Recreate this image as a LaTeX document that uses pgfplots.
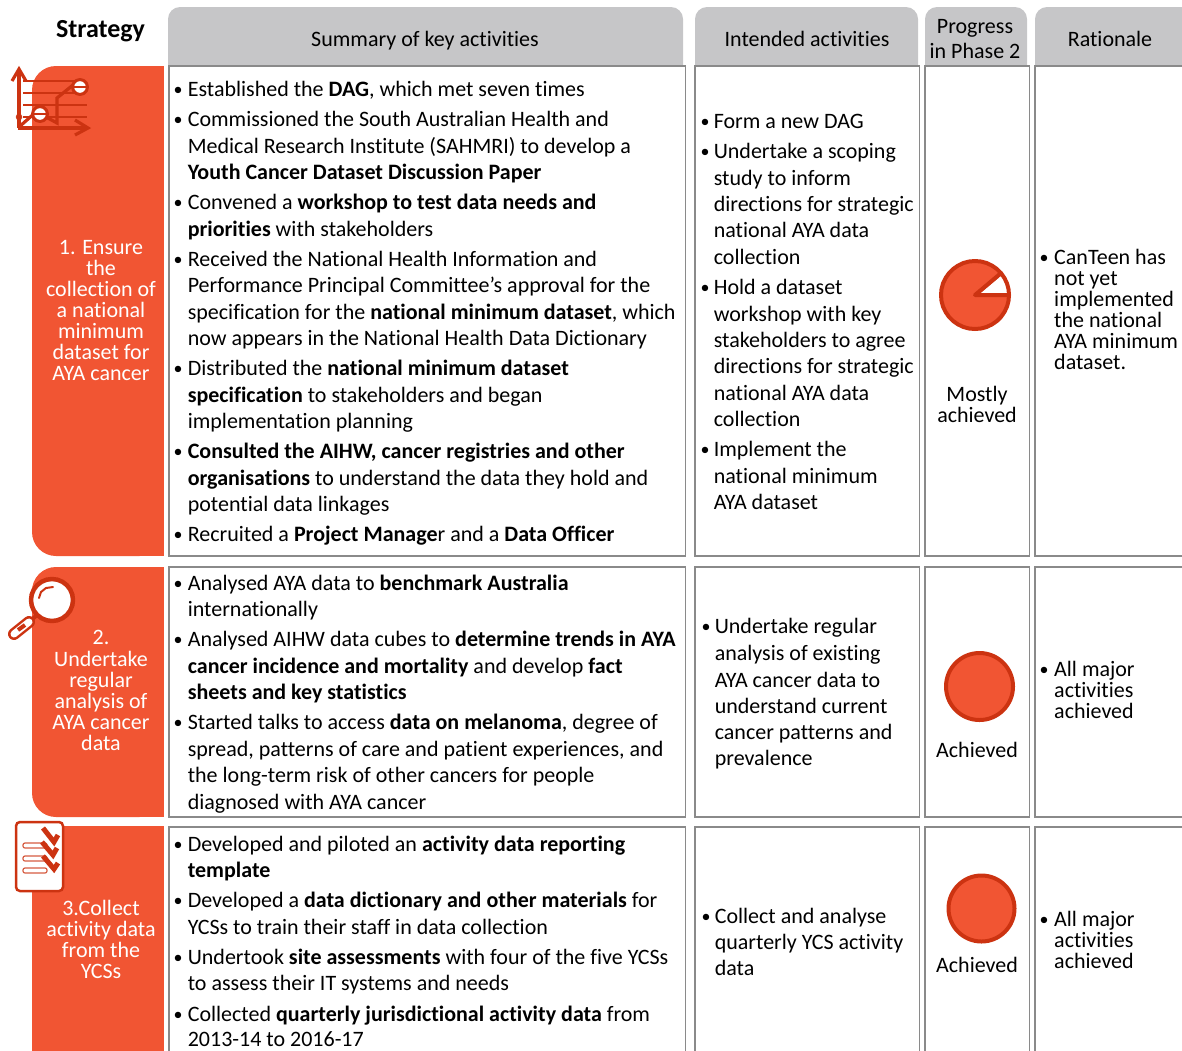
\documentclass[border=0pt]{standalone}
\usepackage{fontspec}
\setmainfont[Ligatures=NoCommon]{Carlito}
\usepackage{pgfplots}
\pgfplotsset{compat=1.18}
\definecolor{org}{HTML}{F15533}
\definecolor{dk}{HTML}{CC3311}
\definecolor{hd}{HTML}{C6C6C8}
\definecolor{bx}{HTML}{8A8A8A}
\newcommand\fnt{\fontsize{22}{24}\selectfont}
\newcommand\tl[3]{\node[anchor=base west,inner sep=0pt,text=black,font=\fnt] at (axis cs:#1,#2+7) {#3};}
\newcommand\bu[2]{\node[anchor=base,inner sep=0pt,text=black,font=\fontsize{18}{20}\selectfont] at (axis cs:#1,#2+6) {•};}
\newcommand\A[2]{\tl{187.6}{#1}{#2}}
\newcommand\Ab[2]{\bu{178}{#1}\tl{187.6}{#1}{#2}}
\newcommand\B[2]{\tl{713.6}{#1}{#2}}
\newcommand\Bb[2]{\bu{705}{#1}\tl{713.6}{#1}{#2}}
\newcommand\C[2]{\tl{714.6}{#1}{#2}}
\newcommand\Cb[2]{\bu{706}{#1}\tl{714.6}{#1}{#2}}
\newcommand\R[2]{\tl{1054}{#1}{#2}}
\newcommand\Rb[2]{\bu{1044}{#1}\tl{1054}{#1}{#2}}
\newcommand\ct[4][black]{\node[anchor=base,inner sep=0pt,text=#1,font=\fontsize{#4}{24}\selectfont] at (axis cs:#2) {#3};}
\newcommand\rect[4]{\addplot[draw=bx,line width=1.3pt,fill=white] coordinates {(#1,#2)(#3,#2)(#3,#4)(#1,#4)} -- cycle;}
\newcommand\hdr[2]{\addplot[draw=none,fill=hd,rounded corners=12pt] coordinates {(#1,7)(#2,7)(#2,90)(#1,90)} -- cycle;}
\newcommand\strat[2]{\addplot[draw=none,fill=org,rounded corners=24pt] coordinates {(32,#1)(163.5,#1)(163.5,#2)(32,#2)} -- cycle;
\addplot[draw=none,fill=org] coordinates {(70,#1)(163.5,#1)(163.5,#2)(70,#2)} -- cycle;}
\begin{document}
\begin{tikzpicture}
\path[use as bounding box] (0,0) rectangle (1182pt,1050pt);
\begin{axis}[scale only axis,width=1182pt,height=1050pt,xmin=0,xmax=1182,ymin=0,ymax=1050,y dir=reverse,axis lines=none,clip=true]
% headers
\hdr{168}{683}\hdr{695}{918}\hdr{925}{1027}\hdr{1035}{1220}
% boxes
\rect{169}{66}{685.7}{556}\rect{695}{66}{919.7}{556}\rect{925}{66}{1029.7}{556}\rect{1035}{66}{1220}{556}
\rect{169}{567}{685.7}{817}\rect{695}{567}{919.7}{817}\rect{925}{567}{1029.7}{817}\rect{1035}{567}{1220}{817}
\rect{169}{827}{685.7}{1090}\rect{695}{827}{919.7}{1090}\rect{925}{827}{1029.7}{1090}\rect{1035}{827}{1220}{1090}
% strategy blocks
\strat{66}{556}\strat{567}{817}\strat{826}{1100}
% pies: the white gap first, the share achieved over it
\addplot[draw=dk,line width=4pt,fill=white,line join=round] coordinates {(975,295)(1009,295)(1008.5,289.1)(1007,283.4)(1004.4,278)(1001,273.1)} -- cycle;
\addplot[draw=dk,line width=4pt,fill=org,line join=round] coordinates {(975,295)(1001,273.1)(996.9,269)(992,265.6)(986.6,263)(980.9,261.5)(975,261)(969.1,261.5)(963.4,263)(958,265.6)(953.1,269)(949,273.1)(945.6,278)(943,283.4)(941.5,289.1)(941,295)(941.5,300.9)(943,306.6)(945.6,312)(949,316.9)(953.1,321)(958,324.4)(963.4,327)(969.1,328.5)(975,329)(980.9,328.5)(986.6,327)(992,324.4)(996.9,321)(1001,316.9)(1004.4,312)(1007,306.6)(1008.5,300.9)(1009,295)} -- cycle;
\addplot[only marks,mark=*,mark size=33.5pt,mark options={fill=org,draw=dk,line width=4pt}] coordinates {(979.5,686.5)};
\addplot[only marks,mark=*,mark size=33pt,mark options={fill=org,draw=dk,line width=4pt}] coordinates {(981.5,908.5)};
% chart icon
\addplot[draw=dk,line width=1.2pt] coordinates {(23,81)(78,81)};
\addplot[draw=dk,line width=1.2pt] coordinates {(23,93)(80,93)};
\addplot[draw=dk,line width=1.2pt] coordinates {(23,105)(87,105)};
\addplot[draw=dk,line width=1.2pt] coordinates {(23,117)(87,117)};
\addplot[draw=dk,line width=3.2pt] coordinates {(19,128)(19,70)};
\addplot[draw=dk,line width=3.2pt] coordinates {(12,81)(19,69)(26,81)};
\addplot[draw=dk,line width=3.2pt] coordinates {(18,128)(87,128)};
\addplot[draw=dk,line width=3.2pt] coordinates {(75,120)(88,128)(75,135)};
\addplot[draw=dk,line width=3.2pt] coordinates {(19,127)(36,112)(46,117)(57,123)(57,98)(73,85)};
\addplot[draw=dk,line width=3pt,fill=white,line join=round] coordinates {(87.5,87)(86.5,83.25)(83.75,80.5)(80,79.5)(76.25,80.5)(73.5,83.25)(72.5,87)(73.5,90.75)(76.25,93.5)(80,94.5)(83.75,93.5)(86.5,90.75)} -- cycle;
\addplot[draw=dk,line width=3pt,fill=white,line join=round] coordinates {(47.5,114)(46.5,110.25)(43.75,107.5)(40,106.5)(36.25,107.5)(33.5,110.25)(32.5,114)(33.5,117.75)(36.25,120.5)(40,121.5)(43.75,120.5)(46.5,117.75)} -- cycle;
\addplot[draw=dk,line width=2.5pt] coordinates {(73,87)(87,87)};
\addplot[draw=dk,line width=2.5pt] coordinates {(33,114)(47,114)};
\addplot[only marks,mark=*,mark size=3pt,mark options={fill=dk,draw=dk}] coordinates {(19,117)};
% magnifier
\addplot[draw=dk,line width=4pt] coordinates {(36,616)(30,621)};
\addplot[draw=dk,line width=12pt,line cap=round] coordinates {(29,622)(14,634)};
\addplot[draw=white,line width=7pt,line cap=round] coordinates {(29,622)(14,634)};
\addplot[draw=dk,line width=4pt] coordinates {(25,625)(18,630)};
\addplot[draw=dk,line width=4.5pt,fill=white,line join=round] coordinates {(73,600)(72.3,594.6)(70.2,589.5)(66.85,585.15)(62.5,581.8)(57.4,579.7)(52,579)(46.6,579.7)(41.5,581.8)(37.15,585.15)(33.8,589.5)(31.7,594.6)(31,600)(31.7,605.4)(33.8,610.5)(37.15,614.85)(41.5,618.2)(46.6,620.3)(52,621)(57.4,620.3)(62.5,618.2)(66.85,614.85)(70.2,610.5)(72.3,605.4)} -- cycle;
\addplot[draw=dk,line width=2pt,line cap=round,line join=round] coordinates {(39,598)(41,592)(46,588)(53,587)};
% document icon
\addplot[draw=dk,line width=2.5pt,fill=white,rounded corners=4pt] coordinates {(16,822)(63,822)(63,891)(16,891)} -- cycle;
\addplot[draw=dk!80!white,line width=1.2pt,fill=white,rounded corners=2pt] coordinates {(23,843)(47,843)(47,848)(23,848)} -- cycle;
\addplot[draw=dk!80!white,line width=1.2pt,fill=white,rounded corners=2pt] coordinates {(23,856)(47,856)(47,861)(23,861)} -- cycle;
\addplot[draw=dk!80!white,line width=1.2pt,fill=white,rounded corners=2pt] coordinates {(23,868)(47,868)(47,873)(23,873)} -- cycle;
\addplot[draw=dk,line width=5pt] coordinates {(43,828)(54,842)(58,835)};
\addplot[draw=dk,line width=5pt] coordinates {(42,842)(53,855)(57,848)};
\addplot[draw=dk,line width=5pt] coordinates {(43,856)(54,869)(58,863)};
% header text
\ct[black]{100.5,37}{\textbf{Strategy}}{26}
\ct{425,46}{Summary of key activities}{22}
\ct{807,46}{Intended activities}{22}
\ct{975,33}{Progress}{22}
\ct{975,58}{in Phase 2}{22}
\ct{1110,46}{Rationale}{22}
% strategy text
\ct[white]{101,254}{1. Ensure}{22}
\ct[white]{101,275}{the}{22}
\ct[white]{101,296}{collection of}{22}
\ct[white]{101,317}{a national}{22}
\ct[white]{101,338}{minimum}{22}
\ct[white]{101,359}{dataset for}{22}
\ct[white]{101,380}{AYA cancer}{22}
\ct[white]{101,644}{2.}{22}
\ct[white]{101,666}{Undertake}{22}
\ct[white]{101,687}{regular}{22}
\ct[white]{101,708}{analysis of}{22}
\ct[white]{101,729}{AYA cancer}{22}
\ct[white]{101,750}{data}{22}
\ct[white]{101,915}{3.Collect}{22}
\ct[white]{101,936}{activity data}{22}
\ct[white]{101,957}{from the}{22}
\ct[white]{101,978}{YCSs}{22}
% column A row 1
\Ab{89}{Established the \textbf{DAG}, which met seven times}
\Ab{119}{Commissioned the South Australian Health and}
\A{146}{Medical Research Institute (SAHMRI) to develop a}
\A{172}{\textbf{Youth Cancer Dataset Discussion Paper}}
\Ab{202}{Convened a \textbf{workshop to test data needs and}}
\A{229}{\textbf{priorities} with stakeholders}
\Ab{259}{Received the National Health Information and}
\A{285}{Performance Principal Committee’s approval for the}
\A{312}{specification for the \textbf{national minimum dataset}, which}
\A{338}{now appears in the National Health Data Dictionary}
\Ab{368}{Distributed the \textbf{national minimum dataset}}
\A{395}{\textbf{specification} to stakeholders and began}
\A{421}{implementation planning}
\Ab{451}{\textbf{Consulted the AIHW, cancer registries and other}}
\A{478}{\textbf{organisations} to understand the data they hold and}
\A{504}{potential data linkages}
\Ab{534}{Recruited a \textbf{Project Manage}r and a \textbf{Data Officer}}
% column A row 2
\Ab{583}{Analysed AYA data to \textbf{benchmark Australia}}
\A{609}{internationally}
\Ab{639}{Analysed AIHW data cubes to \textbf{determine trends in AYA}}
\A{666}{\textbf{cancer incidence and mortality} and develop \textbf{fact}}
\A{692}{\textbf{sheets and key statistics}}
\Ab{722}{Started talks to access \textbf{data on melanoma}, degree of}
\A{749}{spread, patterns of care and patient experiences, and}
\A{775}{the long-term risk of other cancers for people}
\A{802}{diagnosed with AYA cancer}
% column A row 3
\Ab{844}{Developed and piloted an \textbf{activity data reporting}}
\A{870}{\textbf{template}}
\Ab{900}{Developed a \textbf{data dictionary and other materials} for}
\A{927}{YCSs to train their staff in data collection}
\Ab{957}{Undertook \textbf{site assessments} with four of the five YCSs}
\A{983}{to assess their IT systems and needs}
\Ab{1014}{Collected \textbf{quarterly jurisdictional activity data} from}
\A{1039}{2013-14 to 2016-17}
% column B
\Bb{121}{Form a new DAG}
\Bb{151}{Undertake a scoping}
\B{178}{study to inform}
\B{204}{directions for strategic}
\B{230}{national AYA data}
\B{257}{collection}
\Bb{287}{Hold a dataset}
\B{314}{workshop with key}
\B{340}{stakeholders to agree}
\B{366}{directions for strategic}
\B{393}{national AYA data}
\B{419}{collection}
\Bb{449}{Implement the}
\B{476}{national minimum}
\B{502}{AYA dataset}
\Cb{626}{Undertake regular}
\C{653}{analysis of existing}
\C{680}{AYA cancer data to}
\C{706}{understand current}
\C{732}{cancer patterns and}
\C{758}{prevalence}
\Cb{916}{Collect and analyse}
\C{942}{quarterly YCS activity}
\C{968}{data}
% progress
\ct{977,401}{Mostly}{22}
\ct{977,422}{achieved}{22}
\ct{977,757}{Achieved}{22}
\ct{977,972}{Achieved}{22}
% rationale
\Rb{257}{CanTeen has}
\R{278}{not yet}
\R{299}{implemented}
\R{320}{the national}
\R{341}{AYA minimum}
\R{362}{dataset.}
\Rb{669}{All major}
\R{690}{activities}
\R{711}{achieved}
\Rb{919}{All major}
\R{940}{activities}
\R{961}{achieved}
\end{axis}
\end{tikzpicture}
\end{document}
